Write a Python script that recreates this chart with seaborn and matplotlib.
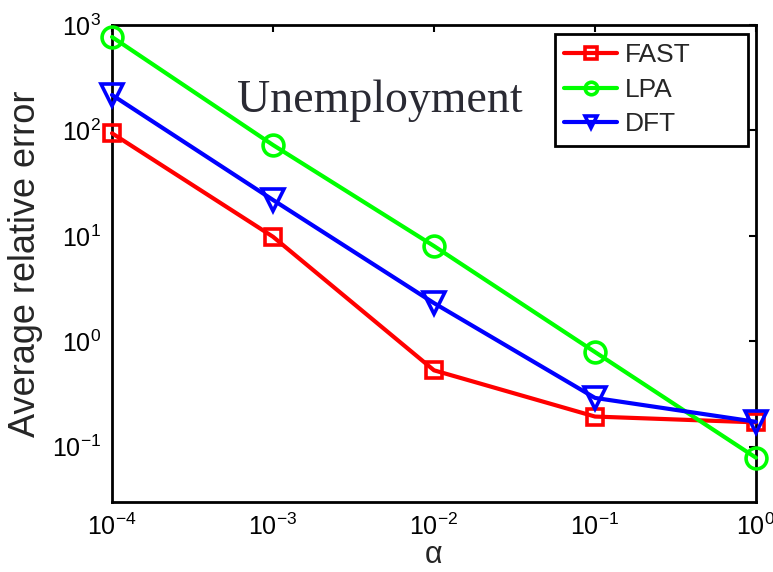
import numpy as np
import pandas as pd
import seaborn as sns
import matplotlib
matplotlib.use("Agg")
import matplotlib.pyplot as plt

# privacy parameter values and average relative error per method
alpha = [1e-4, 1e-3, 1e-2, 1e-1, 1e0]
fast = [94, 9.8, 0.53, 0.193, 0.17]
lpa = [770, 72.7, 8.0, 0.79, 0.0785]
dft = [217, 21.9, 2.3, 0.29, 0.172]
methods = ["FAST", "LPA", "DFT"]

df = pd.DataFrame({
    "alpha": alpha * 3,
    "error": fast + lpa + dft,
    "method": sum([[m] * len(alpha) for m in methods], []),
})

sns.set_theme(style="white")
plt.rcParams["font.family"] = ["Liberation Sans", "DejaVu Sans"]
plt.rcParams["mathtext.fontset"] = "custom"
plt.rcParams["mathtext.rm"] = "Liberation Sans"
plt.rcParams["mathtext.it"] = "Liberation Sans:italic"

fig = plt.figure(figsize=(7.73, 5.72), dpi=100)
ax = fig.add_axes([112 / 773, 1 - 502 / 572, (756 - 112) / 773, (502 - 25) / 572])

palette = {"FAST": "#ff0000", "LPA": "#00ff00", "DFT": "#0000ff"}
markers = {"FAST": "s", "LPA": "o", "DFT": "v"}
sizes = {"FAST": 12, "LPA": 15, "DFT": 16}

for m in methods:
    sub = df[df["method"] == m]
    sns.lineplot(data=sub, x="alpha", y="error", ax=ax, color=palette[m],
                 marker=markers[m], markersize=sizes[m], markerfacecolor="none",
                 markeredgecolor=palette[m], markeredgewidth=2.6, linewidth=3,
                 label=m, clip_on=False, zorder=3)

ax.set_xscale("log")
ax.set_yscale("log")
ax.set_xlim(1e-4, 1e0)
ax.set_ylim(10 ** -1.525, 1e3)
ax.set_xticks(alpha)
ax.set_yticks([1e-1, 1e0, 1e1, 1e2, 1e3])
ax.minorticks_off()
ax.tick_params(axis="both", which="major", direction="in", length=5, width=1.5,
               top=True, right=True, labelsize=18, colors="black", pad=8)
for s in ax.spines.values():
    s.set_visible(True)
    s.set_color("black")
    s.set_linewidth(2)

ax.set_xlabel("α", fontsize=22, labelpad=0)
ax.set_ylabel("Average relative error", fontsize=26, labelpad=6)

ax.text(0.416, 0.818, "Unemployment", transform=ax.transAxes, ha="center",
        va="baseline", fontsize=33, family="Liberation Serif", color="#2a2a33")

leg = ax.legend(loc="upper left",
                bbox_to_anchor=(555 / 773, 1 - 147 / 572, (748 - 555) / 773, 113 / 572),
                bbox_transform=fig.transFigure, mode="expand", borderaxespad=0,
                fontsize=19, frameon=True, fancybox=False, handlelength=2.0,
                handletextpad=0.3, labelspacing=0.4, borderpad=0.35)
leg.get_frame().set_edgecolor("black")
leg.get_frame().set_linewidth(2)
leg.get_frame().set_alpha(1)
for h in leg.legend_handles:
    h.set_markersize(9)

fig.savefig("out.png", dpi=100, facecolor="white")
